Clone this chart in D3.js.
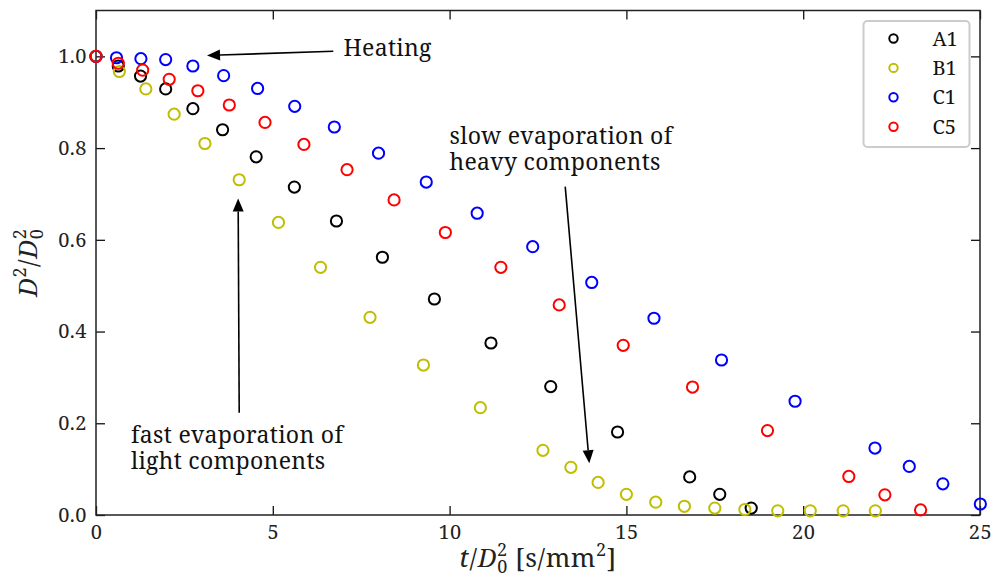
<!DOCTYPE html>
<html>
<head>
<meta charset="utf-8">
<script src="https://cdn.jsdelivr.net/npm/d3@7"></script>
<style>
  body { margin: 0; background: #fff; }
  svg { display: block; font-family: "Noto Serif", "Liberation Serif", serif; }
</style>
</head>
<body>
<svg id="chart" width="993" height="583"></svg>
<script>
// droplet size history, t/D0^2 vs D^2/D0^2
var seriesNames = ["A1", "B1", "C1", "C5"],
    seriesColors = ["#000000", "#bfbf00", "#0000ff", "#ff0000"];

var tA1 = [0, 0.63, 1.26, 1.97, 2.74, 3.58, 4.53, 5.61, 6.80, 8.10, 9.57, 11.17, 12.86, 14.75, 16.79, 17.64, 18.53],
    dA1 = [1.0, 0.979, 0.957, 0.929, 0.886, 0.840, 0.781, 0.715, 0.641, 0.562, 0.471, 0.375, 0.280, 0.181, 0.083, 0.045, 0.015];

var tB1 = [0, 0.66, 1.41, 2.21, 3.08, 4.05, 5.16, 6.35, 7.75, 9.26, 10.87, 12.64, 13.43, 14.20, 15.00, 15.83, 16.64, 17.50, 18.35, 19.28, 20.20, 21.13, 22.04],
    dB1 = [1.0, 0.967, 0.929, 0.874, 0.810, 0.731, 0.638, 0.540, 0.431, 0.327, 0.234, 0.141, 0.104, 0.071, 0.045, 0.028, 0.019, 0.015, 0.012, 0.009, 0.009, 0.009, 0.009];

var tC1 = [0, 0.58, 1.27, 1.97, 2.74, 3.61, 4.57, 5.62, 6.74, 7.99, 9.34, 10.78, 12.35, 14.02, 15.78, 17.69, 19.77, 22.03, 23.00, 23.95, 25.01],
    dC1 = [1.0, 0.997, 0.995, 0.993, 0.979, 0.958, 0.930, 0.891, 0.846, 0.789, 0.726, 0.658, 0.585, 0.507, 0.429, 0.338, 0.248, 0.146, 0.106, 0.068, 0.024];

var tC5 = [0, 0.63, 1.32, 2.07, 2.88, 3.77, 4.78, 5.88, 7.10, 8.43, 9.88, 11.45, 13.10, 14.91, 16.87, 18.99, 21.29, 22.31, 23.32],
    dC5 = [1.0, 0.985, 0.970, 0.950, 0.925, 0.894, 0.856, 0.808, 0.753, 0.687, 0.616, 0.540, 0.458, 0.370, 0.279, 0.184, 0.084, 0.044, 0.011];

var xTicks = [0, 5, 10, 15, 20, 25],
    yTicks = [0.0, 0.2, 0.4, 0.6, 0.8, 1.0];

// text annotations: text lines, text anchor and arrow (from -> to), all in data units
var notes = [
  {lines: ["Heating"], at: [7.0, 1.0], from: [6.71, 1.011], to: [3.14, 1.002]},
  {lines: ["slow evaporation of", "heavy components"], at: [10.0, 0.81], from: [13.27, 0.716], to: [13.95, 0.113]},
  {lines: ["fast evaporation of", "light components"], at: [0.99, 0.158], from: [4.05, 0.223], to: [4.02, 0.69]}
];

var series = [
  {name: seriesNames[0], color: seriesColors[0], t: tA1, d: dA1},
  {name: seriesNames[1], color: seriesColors[1], t: tB1, d: dB1},
  {name: seriesNames[2], color: seriesColors[2], t: tC1, d: dC1},
  {name: seriesNames[3], color: seriesColors[3], t: tC5, d: dC5}
];

var svg = d3.select("#chart"),
    margin = {top: 10.5, right: 13, bottom: 68, left: 96},
    width = 993 - margin.left - margin.right,
    height = 583 - margin.top - margin.bottom,
    g = svg.append("g").attr("transform", "translate(" + margin.left + "," + margin.top + ")");

var x = d3.scaleLinear().domain([0, 25]).range([0, width]);
var y = d3.scaleLinear().domain([0, 1.1]).range([height, 0]);

// axes, ticks pointing inward on all four sides
function styleAxis(sel) {
  sel.select(".domain").remove();
  sel.selectAll(".tick line").attr("stroke", "#111").attr("stroke-width", 1.3);
  sel.selectAll(".tick text")
      .attr("font-family", "Noto Serif")
      .attr("font-size", 20)
      .attr("letter-spacing", 0.5)
      .attr("fill", "#222");
}

g.append("g")
    .attr("transform", "translate(0," + height + ")")
    .call(d3.axisBottom(x).tickValues(xTicks).tickSize(-9).tickPadding(10).tickFormat(d3.format("d")))
    .call(styleAxis);

g.append("g")
    .call(d3.axisTop(x).tickValues(xTicks).tickSize(-9).tickFormat(""))
    .call(styleAxis);

g.append("g")
    .call(d3.axisLeft(y).tickValues(yTicks).tickSize(-9).tickPadding(9).tickFormat(d3.format(".1f")))
    .call(styleAxis);

g.append("g")
    .attr("transform", "translate(" + width + ",0)")
    .call(d3.axisRight(y).tickValues(yTicks).tickSize(-9).tickFormat(""))
    .call(styleAxis);

g.append("rect")
    .attr("width", width)
    .attr("height", height)
    .attr("fill", "none")
    .attr("stroke", "#222")
    .attr("stroke-width", 1.5);

// scatter markers
series.forEach(function(s) {
  g.append("g")
    .selectAll("circle")
    .data(d3.zip(s.t, s.d))
    .enter().append("circle")
      .attr("cx", function(p) { return x(p[0]); })
      .attr("cy", function(p) { return y(p[1]); })
      .attr("r", 5.6)
      .attr("fill", "none")
      .attr("stroke", s.color)
      .attr("stroke-width", 2);
});

// annotations
notes.forEach(function(n) {
  var x0 = x(n.from[0]), y0 = y(n.from[1]),
      x1 = x(n.to[0]), y1 = y(n.to[1]),
      ang = Math.atan2(y1 - y0, x1 - x0),
      len = 13, half = 5.5,
      bx = x1 - len * Math.cos(ang), by = y1 - len * Math.sin(ang);

  g.append("line")
      .attr("x1", x0).attr("y1", y0)
      .attr("x2", bx).attr("y2", by)
      .attr("stroke", "#000")
      .attr("stroke-width", 1.6);

  g.append("path")
      .attr("d", d3.line()([
        [x1, y1],
        [bx + half * Math.sin(ang), by - half * Math.cos(ang)],
        [bx - half * Math.sin(ang), by + half * Math.cos(ang)]
      ]) + "Z")
      .attr("fill", "#000");

  // one text element per line
  n.lines.forEach(function(l, i) {
    g.append("text")
        .attr("x", x(n.at[0]))
        .attr("y", y(n.at[1]) + i * 26.6)
        .attr("font-size", 23)
        .attr("letter-spacing", 0.3)
        .attr("fill", "#111")
        .text(l);
  });
});

// legend
var legend = g.append("g").attr("transform", "translate(" + (width - 116.5) + ",10.5)");

legend.append("rect")
    .attr("width", 106)
    .attr("height", 126)
    .attr("rx", 4)
    .attr("fill", "#fff")
    .attr("stroke", "#cccccc")
    .attr("stroke-width", 2);

var item = legend.selectAll("g.item")
  .data(series)
  .enter().append("g")
    .attr("class", "item")
    .attr("transform", function(d, i) { return "translate(0," + (17.5 + i * 29.4) + ")"; });

item.append("circle")
    .attr("cx", 30)
    .attr("r", 4.2)
    .attr("fill", "none")
    .attr("stroke", function(d) { return d.color; })
    .attr("stroke-width", 2);

item.append("text")
    .attr("x", 69)
    .attr("dy", "0.35em")
    .attr("font-size", 20)
    .attr("fill", "#111")
    .text(function(d) { return d.name; });

// axis titles
var xt = svg.append("text")
    .attr("x", margin.left + width / 2)
    .attr("y", 567)
    .attr("text-anchor", "middle")
    .attr("font-size", 26)
    .attr("letter-spacing", 0.6)
    .attr("fill", "#222");
xt.append("tspan").attr("font-style", "italic").text("t");
xt.append("tspan").text("/");
xt.append("tspan").attr("font-style", "italic").text("D");
xt.append("tspan").attr("font-size", 18).attr("dy", -11).text("2");
xt.append("tspan").attr("font-size", 18).attr("dx", -10.5).attr("dy", 17).text("0");
xt.append("tspan").attr("dy", -6).text(" [s/mm");
xt.append("tspan").attr("font-size", 18).attr("dy", -11).text("2");
xt.append("tspan").attr("dy", 11).text("]");

var yt = svg.append("text")
    .attr("transform", "translate(37," + (margin.top + height / 2) + ") rotate(-90)")
    .attr("text-anchor", "middle")
    .attr("font-size", 26)
    .attr("letter-spacing", 0.6)
    .attr("fill", "#222");
yt.append("tspan").attr("font-style", "italic").text("D");
yt.append("tspan").attr("font-size", 18).attr("dy", -11).text("2");
yt.append("tspan").attr("dy", 11).text("/");
yt.append("tspan").attr("font-style", "italic").text("D");
yt.append("tspan").attr("font-size", 18).attr("dy", -11).text("2");
yt.append("tspan").attr("font-size", 18).attr("dx", -10.5).attr("dy", 17).text("0");
</script>
</body>
</html>
